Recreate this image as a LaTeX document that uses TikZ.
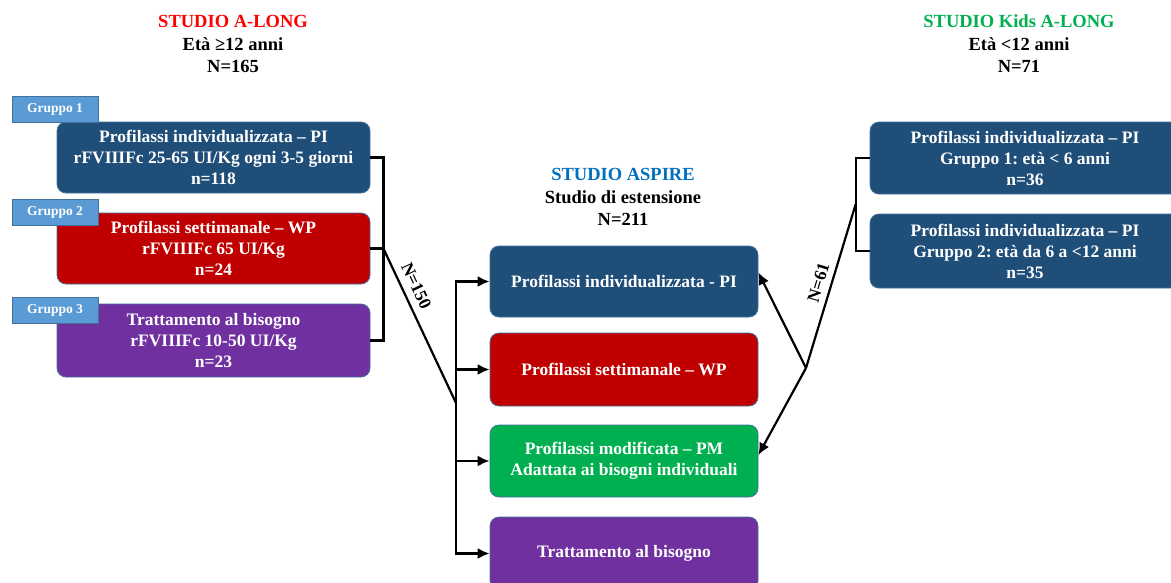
\documentclass[tikz,border=0pt]{standalone}
\usepackage{fontspec}
\setmainfont{Liberation Serif}
\frenchspacing
\usetikzlibrary{arrows.meta,calc}
\definecolor{cblue}{HTML}{1F4E79}
\definecolor{cred}{HTML}{C00000}
\definecolor{cpurple}{HTML}{7030A0}
\definecolor{cgreen}{HTML}{00B050}
\definecolor{ctab}{HTML}{5B9BD5}
\definecolor{cedge}{HTML}{41719C}
\definecolor{ttlblue}{HTML}{0070C0}
\definecolor{ttlred}{HTML}{FF0000}
\definecolor{ttlgreen}{HTML}{00B050}
\tikzset{
  box/.style={draw=cedge, line width=0.8pt, rounded corners=9pt, text=white, align=center,
    font=\fontsize{17.5}{21}\selectfont\bfseries, inner sep=0pt},
  tab/.style={draw=cedge, line width=0.8pt, fill=ctab, text=white, minimum width=86pt, minimum height=26pt,
    font=\fontsize{13.5}{16}\selectfont\bfseries, inner sep=0pt},
  ttl/.style={align=center, font=\fontsize{18.5}{22.5}\selectfont\bfseries},
  conn/.style={line width=2.2pt, black},
  arr/.style={conn, -{Latex[length=12pt,width=11pt]}},
  lbl/.style={font=\fontsize{17.5}{20}\selectfont\bfseries, inner sep=0pt}
}
\begin{document}
\begin{tikzpicture}[x=1pt,y=-1pt]
\useasboundingbox[fill=white] (0,0) rectangle (1171,582);
% titles
\node[ttl] (tA) at (233,44) {\textcolor{ttlred}{STUDIO A-LONG}\\Età ≥12 anni\\N=165};
\node[ttl] (tM) at (623,197) {\textcolor{ttlblue}{STUDIO ASPIRE}\\Studio di estensione\\N=211};
\node[ttl] (tK) at (1019,44) {\textcolor{ttlgreen}{STUDIO Kids A-LONG}\\Età <12 anni\\N=71};
% left boxes
\node[box, fill=cblue, minimum width=313pt, minimum height=71pt] (b1) at (213.5,157.5)
  {Profilassi individualizzata – PI\\rFVIIIFc 25-65 UI/Kg ogni 3-5 giorni\\n=118};
\node[box, fill=cred, minimum width=313pt, minimum height=71pt] (b2) at (213.5,248.5)
  {Profilassi settimanale – WP\\rFVIIIFc 65 UI/Kg\\n=24};
\node[box, fill=cpurple, minimum width=313pt, minimum height=73pt] (b3) at (213.5,340.5)
  {Trattamento al bisogno\\rFVIIIFc 10-50 UI/Kg\\n=23};
\node[tab] (g1) at (55,109) {Gruppo 1};
\node[tab] (g2) at (55,212.5) {Gruppo 2};
\node[tab] (g3) at (55,310) {Gruppo 3};
% middle boxes
\node[box, fill=cblue, minimum width=268pt, minimum height=71pt] (pi) at (624,281.5)
  {Profilassi individualizzata - PI};
\node[box, fill=cred, minimum width=268pt, minimum height=73pt] (wp) at (624,369.5)
  {Profilassi settimanale – WP};
\node[box, fill=cgreen, minimum width=268pt, minimum height=72pt] (pm) at (624,461)
  {Profilassi modificata – PM\\Adattata ai bisogni individuali};
\node[box, fill=cpurple, minimum width=268pt, minimum height=73pt] (tb) at (624,553.5)
  {Trattamento al bisogno};
% kids boxes
\node[box, fill=cblue, minimum width=315pt, minimum height=72pt] (k1) at (1027.5,158)
  {\hspace*{-5pt}Profilassi individualizzata – PI\\\hspace*{-5pt}Gruppo 1: età < 6 anni\\\hspace*{-5pt}n=36};
\node[box, fill=cblue, minimum width=315pt, minimum height=74pt] (k2) at (1027.5,251)
  {\hspace*{-5pt}Profilassi individualizzata – PI\\\hspace*{-5pt}Gruppo 2: età da 6 a <12 anni\\\hspace*{-5pt}n=35};
% left bracket and connectors
\draw[conn] (b1.east) -- ++(13,0) |- (b3.east);
\draw[conn] (b2.east) -- ++(13,0) coordinate (bl);
\coordinate (jl) at (456,403);
\draw[conn] (bl) -- node[lbl, sloped, above=7pt, pos=0.28] {N=150} (jl);
\draw[arr] (jl) |- (pi.west);
\draw[arr] (jl) |- (wp.west);
\draw[arr] (jl) |- (pm.west);
\draw[arr] (jl) |- (tb.west);
% right bracket and connectors
\draw[conn] (k1.west) -- ++(-14,0) |- (k2.west);
\coordinate (kr) at ($($(k1.west)!0.5!(k2.west)$)+(-14,0)$);
\coordinate (jr) at (806,368);
\draw[conn] (jr) -- node[lbl, sloped, above=6pt, pos=0.5] {N=61} (kr);
\draw[arr] (jr) -- ([yshift=9pt]pi.east);
\draw[arr] (jr) -- ([yshift=6pt]pm.east);
\end{tikzpicture}
\end{document}
